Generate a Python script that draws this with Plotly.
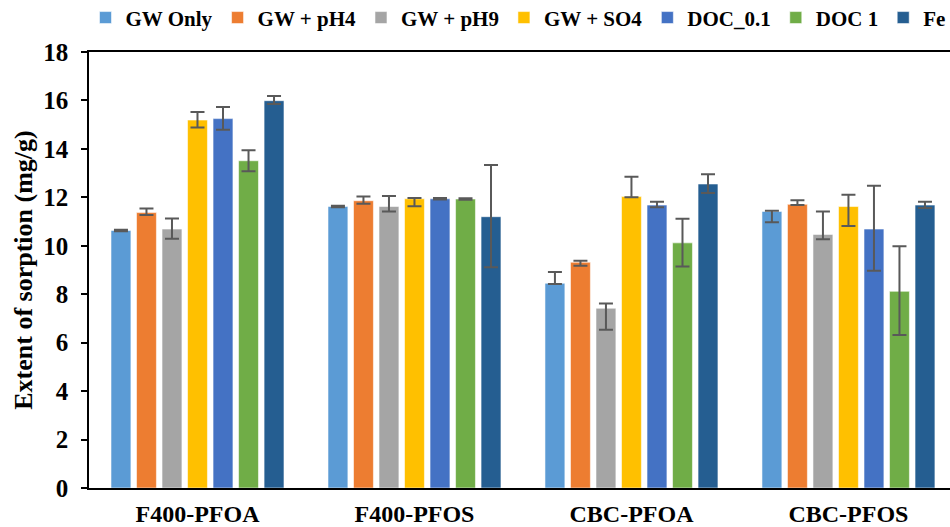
import plotly.graph_objects as go

# Sorbent / compound combinations on the x axis
categories = ["F400-PFOA", "F400-PFOS", "CBC-PFOA", "CBC-PFOS"]

# Water-matrix conditions (one bar series each)
series_names = ["GW Only", "GW + pH4", "GW + pH9", "GW + SO4", "DOC_0.1", "DOC 1", "Fe"]
series_colors = ["#5B9BD5", "#ED7D31", "#A5A5A5", "#FFC000", "#4472C4", "#70AD47", "#255E91"]

# Extent of sorption (mg/g), one list per condition, ordered as categories
gw_only = [10.63, 11.62, 8.45, 11.42]
gw_ph4 = [11.37, 11.86, 9.32, 11.71]
gw_ph9 = [10.69, 11.62, 7.42, 10.47]
gw_so4 = [15.19, 11.94, 12.03, 11.62]
doc_01 = [15.25, 11.94, 11.68, 10.69]
doc_1 = [13.51, 11.93, 10.12, 8.12]
fe = [15.99, 11.20, 12.55, 11.68]

# Upper and lower error-bar lengths (mg/g)
gw_only_up = [0.03, 0.03, 0.47, 0.03]
gw_only_dn = [0.03, 0.03, 0.03, 0.45]
gw_ph4_up = [0.17, 0.17, 0.06, 0.17]
gw_ph4_dn = [0.10, 0.12, 0.14, 0.03]
gw_ph9_up = [0.44, 0.44, 0.20, 0.94]
gw_ph9_dn = [0.40, 0.20, 0.89, 0.20]
gw_so4_up = [0.33, 0.03, 0.82, 0.49]
gw_so4_dn = [0.31, 0.31, 0.03, 0.80]
doc_01_up = [0.48, 0.03, 0.14, 1.79]
doc_01_dn = [0.46, 0.03, 0.09, 1.72]
doc_1_up = [0.43, 0.03, 1.00, 1.86]
doc_1_dn = [0.43, 0.03, 0.98, 1.80]
fe_up = [0.19, 2.14, 0.40, 0.14]
fe_dn = [0.14, 2.09, 0.37, 0.12]

values = [gw_only, gw_ph4, gw_ph9, gw_so4, doc_01, doc_1, fe]
err_up = [gw_only_up, gw_ph4_up, gw_ph9_up, gw_so4_up, doc_01_up, doc_1_up, fe_up]
err_dn = [gw_only_dn, gw_ph4_dn, gw_ph9_dn, gw_so4_dn, doc_01_dn, doc_1_dn, fe_dn]

y_ticks = [0, 2, 4, 6, 8, 10, 12, 14, 16, 18]

FONT = "Liberation Serif, Times New Roman, serif"

fig = go.Figure()
for name, color, vals, up, dn in zip(series_names, series_colors, values, err_up, err_dn):
    fig.add_trace(go.Bar(
        name=name,
        x=categories,
        y=vals,
        marker=dict(color=color, line=dict(color="rgba(255,255,255,0.55)", width=1)),
        error_y=dict(type="data", symmetric=False, array=up, arrayminus=dn,
                     color="#595959", thickness=2, width=7),
    ))

fig.update_layout(
    width=950,
    height=527,
    margin=dict(l=89, r=0, t=52, b=39),
    paper_bgcolor="white",
    plot_bgcolor="white",
    barmode="group",
    bargap=0.177,
    bargroupgap=0.22,
    font=dict(family=FONT, size=24, color="black", weight="bold"),
    legend=dict(
        orientation="h",
        xref="container", yref="container",
        x=0.09, y=0.966, xanchor="left", yanchor="middle",
        font=dict(family=FONT, size=21, color="black", weight="bold"),
        itemwidth=30,
        tracegroupgap=0,
        bgcolor="rgba(0,0,0,0)",
    ),
    xaxis=dict(
        range=[-0.5, 3.468],
        automargin=False,
        showline=True, linecolor="black", linewidth=1.5,
        mirror=True,
        ticks="",
        ticklabelstandoff=3,
        tickfont=dict(family=FONT, size=24, color="black", weight="bold"),
    ),
    yaxis=dict(
        range=[0, 18],
        automargin=False,
        tickvals=y_ticks,
        showgrid=False,
        zeroline=False,
        showline=True, linecolor="black", linewidth=1.5,
        ticks="outside", ticklen=6, tickwidth=1.5, tickcolor="black",
        ticklabelstandoff=8,
        tickfont=dict(family=FONT, size=25, color="black", weight="bold"),
        title=dict(text="Extent of sorption (mg/g)", standoff=3,
                   font=dict(family=FONT, size=26, color="black", weight="bold")),
    ),
)

fig.write_html("out.html")
